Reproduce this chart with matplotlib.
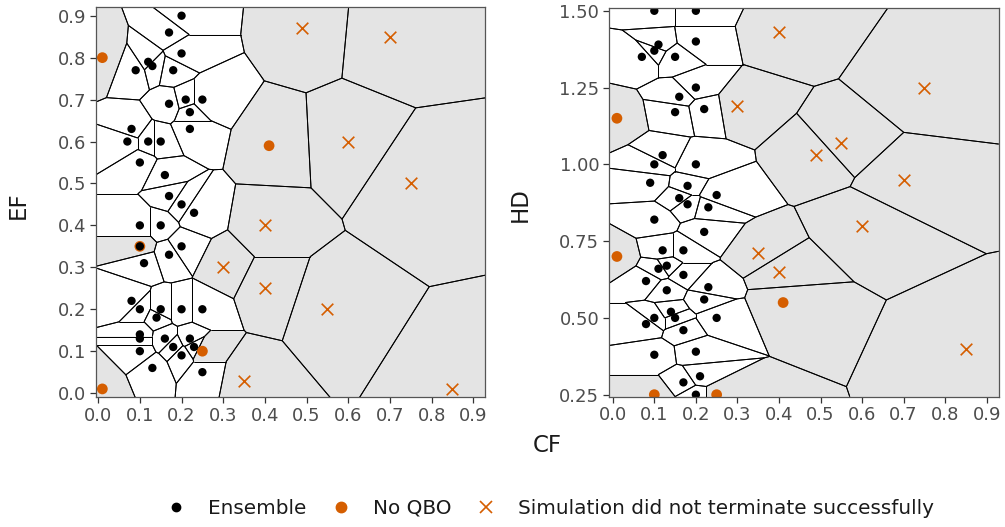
import numpy as np
import matplotlib
matplotlib.use("Agg")
import matplotlib.pyplot as plt
from matplotlib.patches import Polygon
from matplotlib.collections import LineCollection
from matplotlib.lines import Line2D

# ensemble members
ens_cf_ef = [0.20, 0.17, 0.20, 0.12, 0.13, 0.09, 0.18, 0.17, 0.21, 0.25, 0.22, 0.22,
             0.08, 0.07, 0.12, 0.15, 0.10, 0.16, 0.17, 0.20, 0.23, 0.10, 0.15, 0.20,
             0.10, 0.17, 0.11, 0.08, 0.10, 0.15, 0.20, 0.25, 0.14, 0.10, 0.10, 0.16,
             0.22, 0.18, 0.23, 0.10, 0.20, 0.13, 0.25]
ens_ef = [0.90, 0.86, 0.81, 0.79, 0.78, 0.77, 0.77, 0.69, 0.70, 0.70, 0.67, 0.63,
          0.63, 0.60, 0.60, 0.60, 0.55, 0.52, 0.47, 0.45, 0.43, 0.40, 0.40, 0.35,
          0.35, 0.33, 0.31, 0.22, 0.20, 0.20, 0.20, 0.20, 0.18, 0.14, 0.13, 0.13,
          0.13, 0.11, 0.11, 0.10, 0.09, 0.06, 0.05]

ens_cf_hd = [0.10, 0.20, 0.20, 0.11, 0.10, 0.07, 0.15, 0.20, 0.16, 0.22, 0.15, 0.12,
             0.10, 0.20, 0.09, 0.18, 0.25, 0.16, 0.18, 0.23, 0.10, 0.22, 0.12, 0.17,
             0.13, 0.11, 0.17, 0.08, 0.23, 0.13, 0.22, 0.14, 0.10, 0.15, 0.25, 0.08,
             0.17, 0.20, 0.10, 0.21, 0.17, 0.20]
ens_hd = [1.50, 1.50, 1.40, 1.39, 1.37, 1.35, 1.35, 1.25, 1.22, 1.18, 1.17, 1.03,
          1.00, 1.00, 0.94, 0.93, 0.90, 0.89, 0.87, 0.86, 0.82, 0.78, 0.72, 0.72,
          0.67, 0.66, 0.64, 0.62, 0.60, 0.59, 0.56, 0.52, 0.50, 0.50, 0.50, 0.48,
          0.46, 0.39, 0.38, 0.31, 0.29, 0.25]

# no QBO runs
noqbo_cf = [0.01, 0.41, 0.10, 0.25, 0.01]
noqbo_ef = [0.80, 0.59, 0.35, 0.10, 0.01]
noqbo_cf_hd = [0.01, 0.01, 0.10, 0.25, 0.41]
noqbo_hd = [1.15, 0.70, 0.25, 0.25, 0.55]

# failed runs
fail_cf = [0.49, 0.70, 0.60, 0.75, 0.40, 0.30, 0.40, 0.55, 0.35, 0.85]
fail_ef = [0.87, 0.85, 0.60, 0.50, 0.40, 0.30, 0.25, 0.20, 0.03, 0.01]
fail_cf_hd = [0.40, 0.30, 0.75, 0.55, 0.49, 0.70, 0.60, 0.35, 0.40, 0.85]
fail_hd = [1.43, 1.19, 1.25, 1.07, 1.03, 0.95, 0.80, 0.71, 0.65, 0.40]

ORANGE = "#D55E00"
GREY = "#E4E4E4"


def clip(poly, a, b, c):
    # keep a*x + b*y <= c
    out = []
    n = len(poly)
    for k in range(n):
        p = poly[k]
        q = poly[(k + 1) % n]
        fp = a * p[0] + b * p[1] - c
        fq = a * q[0] + b * q[1] - c
        if fp <= 0:
            out.append(p)
        if fp * fq < 0:
            t = fp / (fp - fq)
            out.append((p[0] + t * (q[0] - p[0]), p[1] + t * (q[1] - p[1])))
    return out


def cell(i, pts, poly):
    xi, yi = pts[i]
    for j, (xj, yj) in enumerate(pts):
        if j == i:
            continue
        a, b = xj - xi, yj - yi
        poly = clip(poly, a, b, (a * (xi + xj) + b * (yi + yj)) / 2)
        if not poly:
            break
    return poly


def panel(ax, xe, ye, xn, yn, xf, yf, xlim, ylim, rx, ry):
    pts, kind = [], []
    for xs, ys, k in [(xe, ye, "e"), (xn, yn, "n"), (xf, yf, "f")]:
        for x, y in zip(xs, ys):
            hit = [i for i, p in enumerate(pts) if abs(p[0] - x) < 1e-9 and abs(p[1] - y) < 1e-9]
            if hit:
                kind[hit[0]] = k
            else:
                pts.append((x, y))
                kind.append(k)
    x0, x1 = xlim
    y0, y1 = ylim
    box = [(x0, y0), (x1, y0), (x1, y1), (x0, y1)]
    ax.set_facecolor(GREY)
    segs = []
    t = np.linspace(0, 2 * np.pi, 181)[:-1]
    for i, (xi, yi) in enumerate(pts):
        c = cell(i, pts, box)
        if kind[i] == "e":
            circ = [(xi + rx * np.cos(a), yi + ry * np.sin(a)) for a in t]
            d = cell(i, pts, circ)
            for a, b, cc in [(1, 0, x1), (-1, 0, -x0), (0, 1, y1), (0, -1, -y0)]:
                if d:
                    d = clip(d, a, b, cc)
            if d:
                ax.add_patch(Polygon(d, closed=True, fc="white", ec="none", zorder=1))
        n = len(c)
        for k in range(n):
            p, q = c[k], c[(k + 1) % n]
            on_box = (abs(p[0] - q[0]) < 1e-9 and (abs(p[0] - x0) < 1e-9 or abs(p[0] - x1) < 1e-9)) or \
                     (abs(p[1] - q[1]) < 1e-9 and (abs(p[1] - y0) < 1e-9 or abs(p[1] - y1) < 1e-9))
            if not on_box:
                segs.append([p, q])
    ax.add_collection(LineCollection(segs, colors="black", linewidths=0.7, zorder=2))
    ax.scatter(xf, yf, marker="x", s=70, color=ORANGE, linewidths=1.2, zorder=3)
    ax.scatter(xn, yn, marker="o", s=60, color=ORANGE, edgecolors="none", zorder=3)
    ax.scatter(xe, ye, marker="o", s=36, color="black", edgecolors="none", zorder=4)
    ax.set_xlim(xlim)
    ax.set_ylim(ylim)
    ax.set_xticks(np.arange(0, 0.91, 0.1))
    ax.set_xticklabels(["%.1f" % v for v in np.arange(0, 0.91, 0.1)])
    for s in ax.spines.values():
        s.set_color("#555555")
        s.set_linewidth(0.9)
        s.set_zorder(5)
    ax.tick_params(labelsize=13, labelcolor="#4D4D4D", color="#333333", length=4, width=0.9, pad=3)


fig = plt.figure(figsize=(10.05, 5.27), dpi=100)
ax1 = fig.add_axes([0.0952, 0.2461, 0.3874, 0.740])
ax2 = fig.add_axes([0.606, 0.2473, 0.3878, 0.7369])

panel(ax1, ens_cf_ef, ens_ef, noqbo_cf, noqbo_ef, fail_cf, fail_ef,
      (-0.006, 0.928), (-0.01, 0.92), 0.15, 0.15)
ax1.set_yticks(np.arange(0, 0.91, 0.1))
ax1.set_yticklabels(["%.1f" % v for v in np.arange(0, 0.91, 0.1)])

panel(ax2, ens_cf_hd, ens_hd, noqbo_cf_hd, noqbo_hd, fail_cf_hd, fail_hd,
      (-0.009, 0.929), (0.2435, 1.508), 0.2, 0.28)
ax2.set_yticks([0.25, 0.50, 0.75, 1.00, 1.25, 1.50])
ax2.set_yticklabels(["0.25", "0.50", "0.75", "1.00", "1.25", "1.50"])

fig.text(18 / 1005, 1 - 205 / 527, "EF", rotation=90, ha="center", va="center", fontsize=16.5, color="#1A1A1A")
fig.text(520 / 1005, 1 - 205 / 527, "HD", rotation=90, ha="center", va="center", fontsize=16.5, color="#1A1A1A")
fig.text(547 / 1005, 1 - 445 / 527, "CF", ha="center", va="center", fontsize=16.5, color="#1A1A1A")

handles = [
    Line2D([], [], ls="none", marker="o", color="black", markersize=6),
    Line2D([], [], ls="none", marker="o", color=ORANGE, markersize=7.5),
    Line2D([], [], ls="none", marker="x", color=ORANGE, markersize=8, markeredgewidth=1.2),
]
fig.legend(handles, ["Ensemble", "No QBO", "Simulation did not terminate successfully"],
           loc="center", bbox_to_anchor=(550 / 1005, 1 - 508 / 527), ncol=3, frameon=False,
           fontsize=14.4, handlelength=1.0, handletextpad=1.1, columnspacing=1.25,
           labelcolor="#1A1A1A")

fig.savefig("out.png", dpi=100)
